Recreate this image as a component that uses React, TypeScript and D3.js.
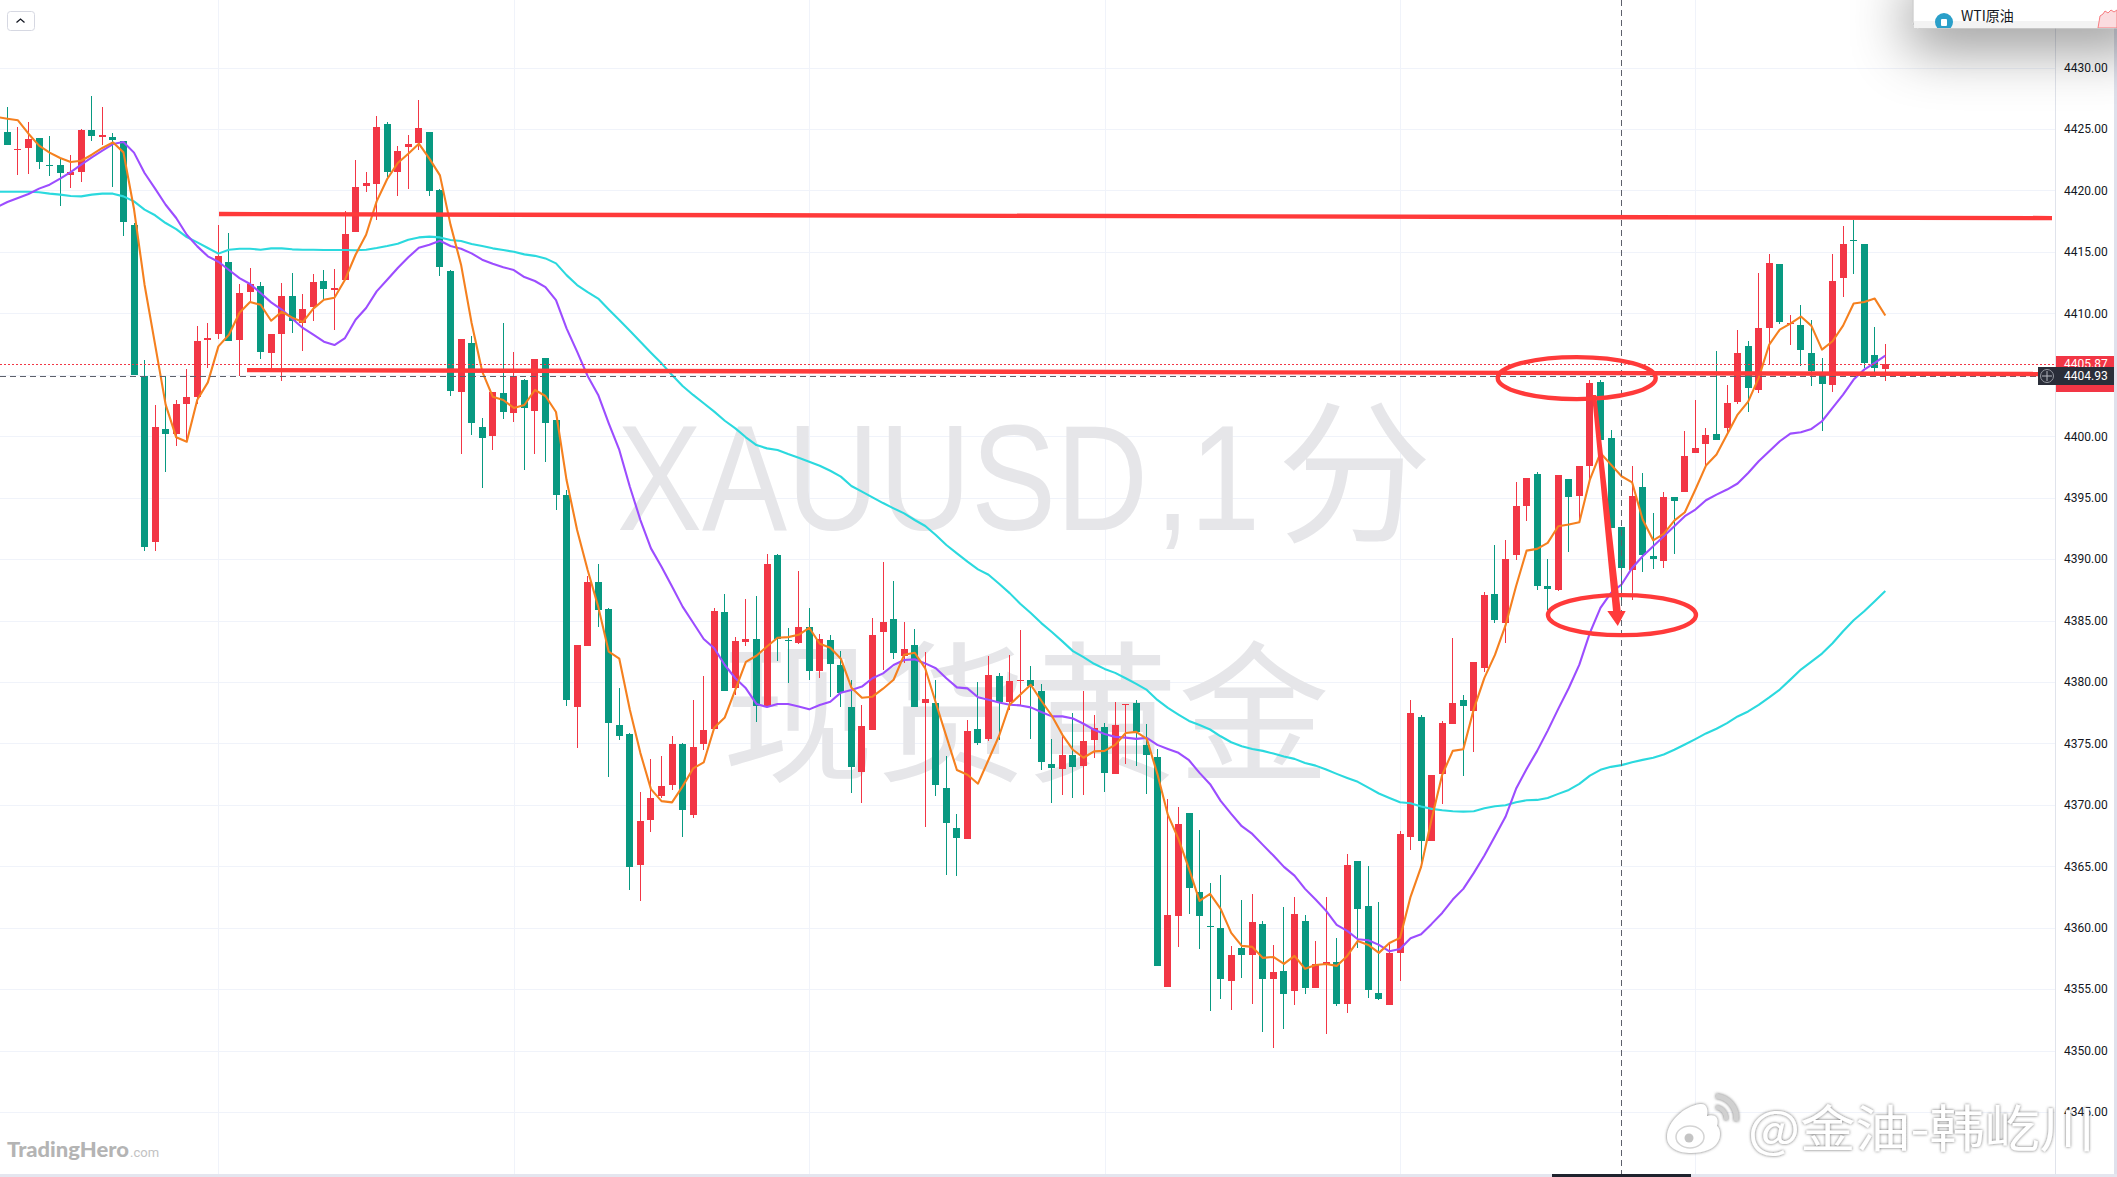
import { useEffect, useRef } from "react";
import * as d3 from "d3";

const opens = [
  4427.12, 4424.78, 4423.32, 4423.48, 4424.30, 4422.10, 4422.10, 4421.28, 4421.53, 4424.95,
  4424.38, 4424.38, 4424.05, 4417.22, 4404.93, 4391.41, 4400.61, 4400.21, 4402.65, 4403.22,
  4407.86, 4408.34, 4414.20, 4407.86, 4411.76, 4412.25, 4406.80, 4408.34, 4411.44, 4409.24,
  4410.54, 4412.66, 4411.93, 4412.74, 4416.65, 4420.39, 4420.55, 4425.44, 4421.53, 4423.56,
  4423.89, 4424.78, 4420.06, 4413.47, 4403.62, 4407.61, 4400.77, 4400.04, 4403.52, 4401.89,
  4404.57, 4402.05, 4406.37, 4401.32, 4395.21, 4377.96, 4382.92, 4388.13, 4385.94, 4376.49,
  4375.78, 4365.12, 4368.79, 4370.74, 4371.63, 4374.97, 4369.19, 4374.97, 4376.19, 4385.71,
  4379.53, 4383.27, 4383.52, 4378.06, 4390.35, 4383.44, 4383.19, 4384.49, 4380.91, 4383.44,
  4381.40, 4377.98, 4372.69, 4376.11, 4384.09, 4385.14, 4382.13, 4383.03, 4378.31, 4378.31,
  4371.39, 4368.13, 4367.24, 4376.19, 4375.38, 4380.51, 4378.39, 4380.10, 4380.18, 4379.28,
  4373.34, 4372.94, 4374.08, 4373.18, 4375.30, 4376.34, 4372.52, 4378.13, 4378.30, 4374.88,
  4373.90, 4355.18, 4360.96, 4369.34, 4362.91, 4360.15, 4359.98, 4355.67, 4358.36, 4357.79,
  4360.31, 4355.83, 4356.48, 4354.86, 4360.55, 4355.10, 4356.97, 4357.22, 4353.80, 4365.44,
  4361.77, 4354.69, 4353.72, 4357.95, 4367.39, 4377.16, 4367.06, 4372.52, 4376.59, 4378.54,
  4377.64, 4381.17, 4387.19, 4384.83, 4390.37, 4394.35, 4396.96, 4387.84, 4387.52, 4396.55,
  4395.17, 4397.61, 4404.45, 4399.89, 4392.65, 4389.15, 4395.90, 4390.29, 4389.88, 4395.09,
  4395.49, 4398.67, 4399.40, 4400.21, 4400.70, 4402.82, 4407.38, 4403.80, 4408.84, 4414.05,
  4409.17, 4409.09, 4406.81, 4405.02, 4404.20, 4412.91, 4416.00, 4415.68, 4406.64, 4405.51,
];

const highs = [
  4427.25, 4426.82, 4425.19, 4425.60, 4424.30, 4424.46, 4422.59, 4422.91, 4425.03, 4427.71,
  4426.82, 4424.70, 4424.05, 4417.38, 4406.23, 4402.57, 4404.93, 4402.97, 4405.50, 4409.00,
  4409.24, 4417.22, 4416.56, 4412.41, 4413.72, 4412.58, 4408.34, 4412.49, 4413.31, 4411.60,
  4413.23, 4413.55, 4413.63, 4418.35, 4422.51, 4421.53, 4426.09, 4425.60, 4423.65, 4424.54,
  4427.39, 4424.78, 4420.15, 4413.55, 4407.94, 4408.18, 4401.51, 4403.62, 4409.21, 4406.85,
  4404.66, 4406.28, 4406.37, 4401.32, 4395.62, 4383.00, 4388.62, 4389.60, 4386.02, 4379.50,
  4375.87, 4371.06, 4373.75, 4373.99, 4375.62, 4375.05, 4378.55, 4380.51, 4386.04, 4387.18,
  4383.68, 4386.77, 4387.02, 4390.43, 4390.43, 4384.41, 4389.05, 4386.04, 4383.92, 4383.84,
  4382.54, 4380.18, 4378.15, 4385.23, 4389.78, 4388.24, 4384.90, 4384.33, 4382.46, 4380.18,
  4373.99, 4369.27, 4376.92, 4380.02, 4382.13, 4380.75, 4382.21, 4384.25, 4381.32, 4379.85,
  4375.38, 4375.62, 4377.49, 4379.28, 4377.33, 4376.67, 4378.38, 4378.21, 4378.54, 4376.59,
  4374.55, 4370.48, 4369.83, 4369.34, 4367.96, 4363.65, 4364.30, 4358.52, 4362.26, 4362.75,
  4360.55, 4358.60, 4361.69, 4362.51, 4361.04, 4358.92, 4362.51, 4359.17, 4366.01, 4365.44,
  4365.03, 4362.10, 4358.68, 4367.88, 4378.54, 4377.32, 4372.44, 4376.83, 4383.59, 4378.95,
  4381.63, 4387.33, 4391.18, 4391.59, 4396.31, 4396.63, 4397.12, 4390.04, 4396.88, 4396.55,
  4397.61, 4404.61, 4404.61, 4400.54, 4392.65, 4397.61, 4397.04, 4393.79, 4395.49, 4395.09,
  4400.46, 4402.98, 4400.70, 4406.97, 4404.20, 4408.68, 4407.78, 4413.32, 4414.86, 4414.05,
  4409.90, 4410.71, 4409.49, 4406.40, 4414.86, 4417.14, 4417.63, 4415.68, 4408.92, 4407.54,
];

const lows = [
  4424.81, 4423.73, 4421.23, 4421.37, 4421.77, 4421.20, 4418.76, 4420.23, 4420.72, 4424.05,
  4423.73, 4420.31, 4416.32, 4405.01, 4390.63, 4390.63, 4397.11, 4399.23, 4399.55, 4402.65,
  4405.58, 4407.94, 4407.77, 4404.93, 4410.87, 4406.31, 4405.50, 4404.46, 4408.43, 4406.96,
  4409.40, 4411.19, 4408.67, 4412.74, 4416.65, 4419.90, 4417.62, 4421.12, 4419.58, 4420.15,
  4423.32, 4419.58, 4413.06, 4403.30, 4398.58, 4400.12, 4395.81, 4398.90, 4401.40, 4401.16,
  4397.25, 4398.55, 4397.90, 4393.99, 4378.04, 4374.62, 4382.92, 4384.47, 4372.26, 4375.27,
  4363.09, 4362.19, 4367.81, 4370.55, 4371.23, 4367.40, 4368.95, 4374.48, 4376.19, 4379.28,
  4378.96, 4382.95, 4376.76, 4378.06, 4381.73, 4379.94, 4383.11, 4380.18, 4380.34, 4378.80,
  4377.98, 4370.98, 4370.17, 4376.11, 4380.99, 4381.89, 4381.54, 4377.98, 4368.22, 4370.74,
  4364.31, 4364.23, 4367.24, 4374.89, 4375.22, 4375.30, 4377.74, 4378.15, 4375.38, 4372.85,
  4370.17, 4370.82, 4370.58, 4370.82, 4373.83, 4371.05, 4372.52, 4373.33, 4373.17, 4370.89,
  4356.89, 4355.18, 4358.44, 4361.12, 4358.27, 4353.23, 4354.20, 4353.31, 4355.91, 4353.80,
  4351.52, 4350.22, 4351.76, 4353.72, 4354.61, 4355.10, 4351.35, 4353.63, 4353.06, 4358.36,
  4354.29, 4354.12, 4353.72, 4355.67, 4366.33, 4365.06, 4367.06, 4370.08, 4376.59, 4372.35,
  4374.31, 4380.84, 4384.83, 4383.20, 4389.96, 4393.13, 4387.52, 4385.89, 4387.44, 4390.61,
  4393.22, 4396.55, 4399.73, 4392.56, 4386.70, 4386.70, 4388.98, 4389.23, 4389.31, 4390.45,
  4395.49, 4398.67, 4397.56, 4399.73, 4400.27, 4402.66, 4402.01, 4403.55, 4405.91, 4409.17,
  4407.46, 4405.75, 4404.12, 4400.46, 4403.63, 4411.37, 4413.24, 4405.59, 4405.26, 4404.53,
];

const closes = [
  4424.95, 4423.73, 4423.40, 4424.21, 4422.34, 4421.96, 4421.45, 4421.53, 4424.95, 4424.46,
  4424.54, 4424.13, 4417.46, 4405.01, 4390.95, 4400.77, 4400.21, 4402.65, 4403.22, 4407.77,
  4408.02, 4414.69, 4407.77, 4411.68, 4412.41, 4406.88, 4408.34, 4411.44, 4409.40, 4410.38,
  4412.58, 4412.01, 4412.09, 4416.48, 4420.31, 4420.63, 4425.19, 4421.53, 4423.24, 4423.81,
  4425.11, 4419.98, 4413.80, 4403.70, 4407.94, 4401.10, 4399.88, 4403.62, 4401.97, 4404.90,
  4402.30, 4406.28, 4401.07, 4395.21, 4378.53, 4383.00, 4388.13, 4385.85, 4376.66, 4375.60,
  4364.96, 4368.70, 4370.58, 4371.55, 4374.97, 4369.60, 4374.73, 4376.11, 4385.80, 4379.28,
  4383.35, 4383.52, 4378.06, 4389.62, 4383.52, 4383.35, 4384.49, 4380.91, 4383.52, 4381.48,
  4379.09, 4373.10, 4376.44, 4383.84, 4384.90, 4382.38, 4382.70, 4377.98, 4378.63, 4371.63,
  4368.54, 4367.32, 4376.03, 4375.05, 4380.59, 4378.39, 4380.10, 4380.18, 4379.64, 4373.51,
  4373.02, 4374.08, 4373.10, 4375.22, 4376.27, 4372.60, 4376.50, 4378.21, 4375.94, 4374.06,
  4356.89, 4361.04, 4368.45, 4363.24, 4360.96, 4360.06, 4355.83, 4357.79, 4357.79, 4360.47,
  4355.83, 4356.40, 4354.61, 4361.12, 4355.10, 4357.05, 4357.22, 4353.80, 4365.11, 4361.53,
  4354.94, 4354.20, 4357.95, 4367.63, 4377.48, 4367.06, 4372.44, 4376.67, 4378.30, 4378.05,
  4381.63, 4387.11, 4385.08, 4390.04, 4394.35, 4396.63, 4387.84, 4387.60, 4396.88, 4395.09,
  4397.61, 4404.37, 4399.73, 4392.56, 4389.31, 4395.17, 4390.37, 4390.04, 4395.09, 4394.76,
  4398.42, 4399.08, 4400.13, 4399.73, 4402.74, 4406.81, 4403.96, 4408.84, 4414.13, 4409.33,
  4409.25, 4407.05, 4405.34, 4404.28, 4412.67, 4415.68, 4415.92, 4405.99, 4405.59, 4405.87,
];

const maFast = [
  4425.98, 4425.84, 4425.71, 4424.62, 4423.65, 4423.08, 4422.64, 4422.32, 4422.42, 4422.91,
  4423.46, 4423.92, 4423.10, 4418.49, 4412.33, 4407.45, 4402.57, 4399.91, 4399.55, 4402.97,
  4404.38, 4407.31, 4408.26, 4410.05, 4410.92, 4410.70, 4409.40, 4410.13, 4409.65, 4409.29,
  4410.38, 4411.11, 4411.27, 4412.74, 4414.77, 4416.40, 4419.11, 4420.93, 4422.23, 4422.99,
  4423.81, 4422.59, 4421.23, 4417.22, 4413.96, 4409.21, 4405.28, 4403.22, 4402.95, 4402.30,
  4402.54, 4403.76, 4403.27, 4401.97, 4396.43, 4392.37, 4389.11, 4386.13, 4382.46, 4381.89,
  4377.74, 4374.21, 4371.28, 4370.30, 4370.20, 4371.50, 4372.96, 4373.45, 4376.27, 4377.11,
  4379.37, 4381.64, 4382.13, 4382.89, 4383.60, 4383.65, 4383.84, 4384.41, 4383.11, 4382.78,
  4381.89, 4379.53, 4378.71, 4378.80, 4379.45, 4380.18, 4382.21, 4382.38, 4381.10, 4378.31,
  4375.57, 4372.83, 4372.45, 4371.72, 4373.67, 4375.62, 4378.15, 4378.96, 4379.77, 4378.47,
  4377.25, 4375.70, 4374.48, 4373.83, 4374.35, 4374.39, 4374.88, 4375.85, 4375.94, 4375.37,
  4372.52, 4369.18, 4367.23, 4364.78, 4362.18, 4362.75, 4361.53, 4359.58, 4358.52, 4358.44,
  4357.54, 4357.62, 4357.05, 4357.70, 4356.65, 4356.97, 4357.05, 4356.89, 4357.70, 4358.92,
  4358.60, 4357.95, 4358.76, 4359.17, 4362.51, 4364.95, 4368.85, 4372.44, 4374.39, 4374.52,
  4377.81, 4380.33, 4382.20, 4384.60, 4387.79, 4390.69, 4390.83, 4391.32, 4392.67, 4392.81,
  4393.00, 4396.47, 4398.64, 4397.69, 4396.74, 4396.25, 4393.22, 4391.53, 4392.05, 4393.13,
  4393.81, 4395.66, 4397.61, 4398.51, 4400.13, 4401.76, 4402.82, 4404.75, 4407.46, 4408.68,
  4409.17, 4409.74, 4408.98, 4407.05, 4407.73, 4409.00, 4410.80, 4410.93, 4411.20, 4409.82,
];

const maMid = [
  4418.65, 4419.06, 4419.39, 4419.71, 4420.15, 4420.47, 4420.96, 4421.50, 4422.10, 4422.70,
  4423.24, 4423.78, 4423.94, 4423.08, 4421.42, 4420.15, 4418.84, 4417.76, 4416.40, 4415.45,
  4414.64, 4414.20, 4413.53, 4412.87, 4412.39, 4411.65, 4410.89, 4410.30, 4409.56, 4408.81,
  4408.26, 4407.69, 4407.42, 4407.99, 4409.48, 4410.43, 4411.79, 4412.74, 4413.69, 4414.56,
  4415.34, 4415.59, 4415.91, 4415.48, 4415.26, 4414.88, 4414.37, 4414.04, 4413.76, 4413.52,
  4412.95, 4412.63, 4412.14, 4411.08, 4408.78, 4406.88, 4404.90, 4403.36, 4401.05, 4398.88,
  4395.89, 4393.18, 4390.87, 4389.38, 4387.76, 4386.13, 4384.82, 4383.50, 4382.74, 4381.38,
  4380.30, 4379.48, 4378.21, 4377.96, 4378.21, 4378.21, 4378.01, 4377.77, 4378.12, 4378.39,
  4379.13, 4379.35, 4379.62, 4380.30, 4380.70, 4381.38, 4381.79, 4381.84, 4381.51, 4381.11,
  4380.30, 4379.56, 4379.48, 4378.75, 4378.55, 4378.33, 4378.15, 4378.09, 4377.93, 4377.55,
  4377.20, 4377.20, 4377.03, 4376.60, 4376.11, 4375.77, 4375.53, 4375.47, 4375.37, 4375.45,
  4374.88, 4374.55, 4374.23, 4373.63, 4372.60, 4371.68, 4370.32, 4369.26, 4368.26, 4367.63,
  4366.74, 4365.87, 4364.95, 4364.24, 4363.16, 4362.29, 4361.37, 4360.23, 4359.74, 4359.06,
  4358.98, 4358.60, 4358.08, 4358.27, 4359.14, 4359.47, 4360.31, 4361.20, 4362.29, 4363.16,
  4364.46, 4365.87, 4367.44, 4369.02, 4371.30, 4372.92, 4374.39, 4376.04, 4377.81, 4379.51,
  4381.41, 4383.99, 4386.03, 4387.25, 4387.93, 4389.28, 4390.23, 4391.04, 4391.86, 4392.67,
  4393.49, 4394.03, 4394.79, 4395.25, 4395.66, 4396.15, 4397.01, 4397.96, 4398.78, 4399.59,
  4400.21, 4400.32, 4400.59, 4401.22, 4402.30, 4403.39, 4404.61, 4405.42, 4405.97, 4406.56,
];

const maSlow = [
  4419.90, 4419.90, 4419.90, 4419.90, 4419.85, 4419.74, 4419.66, 4419.55, 4419.52, 4419.66,
  4419.74, 4419.74, 4419.52, 4419.11, 4418.44, 4417.98, 4417.35, 4416.86, 4416.21, 4415.78,
  4415.32, 4414.86, 4415.18, 4415.26, 4415.26, 4415.18, 4415.29, 4415.29, 4415.21, 4415.18,
  4415.18, 4415.15, 4415.15, 4415.15, 4415.13, 4415.18, 4415.32, 4415.48, 4415.67, 4415.99,
  4416.18, 4416.24, 4416.18, 4415.97, 4415.89, 4415.64, 4415.48, 4415.29, 4415.15, 4415.01,
  4414.80, 4414.68, 4414.47, 4414.07, 4413.11, 4412.30, 4411.73, 4411.20, 4410.32, 4409.46,
  4408.59, 4407.69, 4406.80, 4405.93, 4404.98, 4404.09, 4403.36, 4402.68, 4402.00, 4401.26,
  4400.64, 4399.91, 4399.28, 4399.01, 4398.88, 4398.55, 4398.25, 4397.93, 4397.60, 4397.19,
  4396.71, 4395.95, 4395.49, 4395.02, 4394.56, 4394.13, 4393.72, 4393.18, 4392.69, 4391.96,
  4391.15, 4390.47, 4389.79, 4389.16, 4388.73, 4387.99, 4387.23, 4386.37, 4385.61, 4384.79,
  4384.06, 4383.30, 4382.51, 4382.02, 4381.48, 4381.06, 4380.74, 4380.30, 4379.84, 4379.35,
  4378.54, 4377.89, 4377.35, 4376.83, 4376.50, 4376.13, 4375.58, 4375.09, 4374.77, 4374.55,
  4374.39, 4374.17, 4373.93, 4373.74, 4373.41, 4373.19, 4372.87, 4372.52, 4372.19, 4371.87,
  4371.40, 4370.92, 4370.56, 4370.21, 4370.13, 4369.86, 4369.67, 4369.56, 4369.48, 4369.45,
  4369.48, 4369.72, 4369.89, 4369.97, 4370.21, 4370.37, 4370.40, 4370.56, 4370.89, 4371.21,
  4371.70, 4372.38, 4372.85, 4373.09, 4373.23, 4373.47, 4373.66, 4373.83, 4374.10, 4374.48,
  4374.91, 4375.35, 4375.81, 4376.19, 4376.65, 4377.19, 4377.60, 4378.14, 4378.74, 4379.38,
  4380.19, 4381.01, 4381.66, 4382.31, 4383.15, 4384.13, 4385.02, 4385.75, 4386.57, 4387.41,
];

const priceTicks = [4430, 4425, 4420, 4415, 4410, 4405, 4400, 4395, 4390, 4385, 4380, 4375, 4370, 4365, 4360, 4355, 4350, 4345];
const timeGridBars = [21, 49, 77, 105, 133, 161];

const lastPrice = 4405.87;
const crossPrice = 4404.93;
const crossBar = 154;

// hand drawn marks on the picture, as [bar, price]
const resistance: [number, number][] = [[21.06, 4418.08], [194.8, 4417.75]];
const support: [number, number][] = [[23.71, 4405.38], [193.5, 4405.06]];
const topRing = { bar: 149.75, price: 4404.73, rx: 79, ry: 21 };
const bottomRing = { bar: 154.04, price: 4385.44, rx: 74, ry: 20 };
const arrowShape: [number, number][] = [
  [151.2, 4403.35], [151.6, 4403.35], [153.92, 4385.77], [154.39, 4385.77],
  [153.64, 4384.55], [152.65, 4385.77], [153.19, 4385.77],
];

const UP = "#f23645";
const DOWN = "#089981";
const DRAW_RED = "#ff3a3a";
const AXIS_FONT = "Roboto, 'Liberation Sans', sans-serif";

export default function App() {
  const svgRef = useRef<SVGSVGElement>(null);

  useEffect(() => {
    if (!svgRef.current) return;
    const svg = d3.select(svgRef.current);
    svg.selectAll("*").remove();

    const width = 2117;
    const height = 1177;
    const axisX = 2056;

    const x = d3.scaleLinear().domain([0, 179]).range([-3.15, 1885.3]);
    const y = d3.scaleLinear().domain([4430, 4345]).range([67.6, 1112]);

    const defs = svg.append("defs");
    const panelShadow = defs.append("filter").attr("id", "panelShadow")
      .attr("x", "-50%").attr("y", "-100%").attr("width", "200%").attr("height", "400%");
    panelShadow.append("feDropShadow").attr("dx", -4).attr("dy", 20).attr("stdDeviation", 28)
      .attr("flood-color", "#000").attr("flood-opacity", 0.42);
    const glow = defs.append("filter").attr("id", "glow")
      .attr("x", "-10%").attr("y", "-30%").attr("width", "120%").attr("height", "160%");
    glow.append("feDropShadow").attr("dx", 0).attr("dy", 0).attr("stdDeviation", 1.6)
      .attr("flood-color", "#666").attr("flood-opacity", 1);
    defs.append("clipPath").attr("id", "paneClip").append("rect")
      .attr("x", 0).attr("y", 0).attr("width", axisX).attr("height", 1174);
    defs.append("clipPath").attr("id", "panelClip").append("rect")
      .attr("x", 1913).attr("y", 0).attr("width", 204).attr("height", 28);

    svg.append("rect").attr("width", width).attr("height", height).attr("fill", "#fff");

    // grid
    const grid = svg.append("g").attr("shape-rendering", "crispEdges");
    grid.selectAll("line.h").data(priceTicks).enter().append("line")
      .attr("class", "h")
      .attr("x1", 0).attr("x2", axisX)
      .attr("y1", (d) => Math.round(y(d)) + 0.5).attr("y2", (d) => Math.round(y(d)) + 0.5)
      .attr("stroke", "#f0f3fa");
    grid.selectAll("line.v").data(timeGridBars).enter().append("line")
      .attr("class", "v")
      .attr("x1", (d) => Math.round(x(d)) + 0.5).attr("x2", (d) => Math.round(x(d)) + 0.5)
      .attr("y1", 0).attr("y2", 1174)
      .attr("stroke", "#f0f3fa");

    // symbol watermark
    const mark = svg.append("g").attr("fill", "#e6e6e9");
    mark.append("text").attr("x", 617).attr("y", 530)
      .attr("font-family", "'Liberation Sans', sans-serif").attr("font-size", 150)
      .attr("textLength", 531).attr("lengthAdjust", "spacingAndGlyphs")
      .text("XAUUSD");
    mark.append("text").attr("x", 1155).attr("y", 530)
      .attr("font-family", "'Liberation Sans', sans-serif").attr("font-size", 150)
      .attr("textLength", 105).attr("lengthAdjust", "spacingAndGlyphs")
      .text(",1");
    mark.append("text").attr("x", 1277).attr("y", 530)
      .attr("font-family", "'Noto Sans CJK SC', sans-serif").attr("font-size", 155)
      .text("分");
    mark.append("text").attr("x", 722).attr("y", 770)
      .attr("font-family", "'Noto Sans CJK SC', sans-serif").attr("font-size", 152)
      .text("现货黄金");

    // candles
    const bars = d3.range(opens.length);
    const candles = svg.append("g").attr("shape-rendering", "crispEdges");
    const bodyLeft = (i: number) => Math.round(x(i) - 3.5);
    const colorOf = (i: number) => (closes[i] >= opens[i] ? UP : DOWN);
    candles.selectAll("rect.wick").data(bars).enter().append("rect")
      .attr("class", "wick")
      .attr("x", (i) => bodyLeft(i) + 3)
      .attr("y", (i) => Math.round(y(highs[i])))
      .attr("width", 1)
      .attr("height", (i) => Math.max(1, Math.round(y(lows[i])) - Math.round(y(highs[i]))))
      .attr("fill", colorOf);
    candles.selectAll("rect.body").data(bars).enter().append("rect")
      .attr("class", "body")
      .attr("x", bodyLeft)
      .attr("y", (i) => Math.round(y(Math.max(opens[i], closes[i]))))
      .attr("width", 7)
      .attr("height", (i) => Math.max(1, Math.round(y(Math.min(opens[i], closes[i]))) - Math.round(y(Math.max(opens[i], closes[i])))))
      .attr("fill", colorOf);

    // moving averages
    const line = d3.line<number>().x((_, i) => x(i)).y((d) => y(d));
    const mas: [number[], string][] = [[maSlow, "#2bd9de"], [maMid, "#9c4dff"], [maFast, "#f5801f"]];
    mas.forEach(([values, color]) => {
      svg.append("path").attr("d", line(values))
        .attr("fill", "none").attr("stroke", color).attr("stroke-width", 2.1)
        .attr("stroke-linejoin", "round");
    });

    // last price and crosshair
    svg.append("line").attr("x1", 0).attr("x2", axisX)
      .attr("y1", Math.round(y(lastPrice)) + 0.5).attr("y2", Math.round(y(lastPrice)) + 0.5)
      .attr("stroke", UP).attr("stroke-dasharray", "1.5 2.5").attr("shape-rendering", "crispEdges");
    svg.append("line").attr("x1", 0).attr("x2", 2038)
      .attr("y1", Math.round(y(crossPrice)) + 0.5).attr("y2", Math.round(y(crossPrice)) + 0.5)
      .attr("stroke", "#5d606b").attr("stroke-dasharray", "6 4").attr("shape-rendering", "crispEdges");
    svg.append("line")
      .attr("x1", Math.floor(x(crossBar)) + 0.5).attr("x2", Math.floor(x(crossBar)) + 0.5)
      .attr("y1", 0).attr("y2", 1174)
      .attr("stroke", "#5d606b").attr("stroke-dasharray", "6 4").attr("shape-rendering", "crispEdges");

    // hand drawn levels, rings and arrow
    const draw = svg.append("g").attr("clip-path", "url(#paneClip)");
    const pointLine = d3.line<[number, number]>().x((d) => x(d[0])).y((d) => y(d[1]));
    [resistance, support].forEach((level) => {
      draw.append("path").attr("d", pointLine(level))
        .attr("fill", "none").attr("stroke", DRAW_RED).attr("stroke-width", 4.4);
    });
    [topRing, bottomRing].forEach((ring) => {
      draw.append("ellipse")
        .attr("cx", x(ring.bar)).attr("cy", y(ring.price))
        .attr("rx", ring.rx).attr("ry", ring.ry)
        .attr("fill", "none").attr("stroke", DRAW_RED).attr("stroke-width", 4.4);
    });
    draw.append("path").attr("d", pointLine(arrowShape) + "Z").attr("fill", DRAW_RED);

    // price axis
    svg.append("rect").attr("x", axisX).attr("y", 0).attr("width", width - axisX).attr("height", height).attr("fill", "#fff");
    svg.append("line").attr("x1", axisX - 0.5).attr("x2", axisX - 0.5).attr("y1", 0).attr("y2", height)
      .attr("stroke", "#e0e3eb").attr("shape-rendering", "crispEdges");
    const axis = d3.axisRight(y)
      .tickValues(priceTicks)
      .tickSize(0)
      .tickPadding(8)
      .tickFormat((d) => d3.format(".2f")(d as number));
    const axisG = svg.append("g").attr("transform", `translate(${axisX},0)`).call(axis);
    axisG.select(".domain").remove();
    axisG.selectAll("text")
      .attr("font-family", AXIS_FONT).attr("font-size", 12).attr("fill", "#131722");
    svg.append("rect").attr("x", 2114).attr("y", 0).attr("width", 3).attr("height", height).attr("fill", "#dfe1ec");

    // price labels
    const labels = svg.append("g").attr("font-family", AXIS_FONT).attr("font-size", 12).attr("fill", "#fff");
    labels.append("rect").attr("x", axisX).attr("y", 356).attr("width", 58).attr("height", 36).attr("fill", UP);
    labels.append("text").attr("x", 2064).attr("y", y(lastPrice)).attr("dy", "0.35em").text(d3.format(".2f")(lastPrice));
    labels.append("rect").attr("x", 2038).attr("y", 367).attr("width", 76).attr("height", 18).attr("fill", "#2a2e39");
    labels.append("circle").attr("cx", 2047).attr("cy", 376).attr("r", 6.5)
      .attr("fill", "none").attr("stroke", "#9598a1");
    labels.append("path").attr("d", "M2042 376H2052M2047 371V381").attr("stroke", "#b2b5be");
    labels.append("text").attr("x", 2064).attr("y", y(crossPrice)).attr("dy", "0.35em").text(d3.format(".2f")(crossPrice));

    // bottom edge
    svg.append("rect").attr("x", 0).attr("y", 1174).attr("width", width).attr("height", 3).attr("fill", "#e4e6ef");
    svg.append("rect").attr("x", 1552).attr("y", 1174).attr("width", 139).attr("height", 3).attr("fill", "#1e222d");

    // collapse button
    svg.append("rect").attr("x", 7.5).attr("y", 11.5).attr("width", 27).attr("height", 19).attr("rx", 3)
      .attr("fill", "#fff").attr("stroke", "#d6d8e2");
    svg.append("path").attr("d", "M16.5 22.5L20.5 19L24.5 22.5")
      .attr("fill", "none").attr("stroke", "#131722").attr("stroke-width", 1.3);

    // logo
    svg.append("text").attr("x", 7).attr("y", 1157)
      .attr("font-family", "Lato, Inter, sans-serif").attr("font-weight", 900).attr("font-size", 20)
      .attr("fill", "#b4b4b4").attr("textLength", 122).attr("lengthAdjust", "spacingAndGlyphs")
      .text("TradingHero");
    svg.append("text").attr("x", 130).attr("y", 1157)
      .attr("font-family", "Roboto, sans-serif").attr("font-size", 13)
      .attr("fill", "#c2c2c2").text(".com");

    // symbol popup cut off by the top edge
    svg.append("rect").attr("x", 1913).attr("y", -30).attr("width", 240).attr("height", 58).attr("rx", 6)
      .attr("fill", "#fff").attr("stroke", "#bdbdbd").attr("filter", "url(#panelShadow)");
    const panel = svg.append("g").attr("clip-path", "url(#panelClip)");
    panel.append("rect").attr("x", 1914).attr("y", 21).attr("width", 203).attr("height", 7).attr("fill", "#f3f3f3");
    panel.append("circle").attr("cx", 1944).attr("cy", 22).attr("r", 9).attr("fill", "#2a9fc9");
    panel.append("rect").attr("x", 1941).attr("y", 19).attr("width", 6).attr("height", 7).attr("rx", 1).attr("fill", "#fff");
    panel.append("text").attr("x", 1961).attr("y", 21)
      .attr("font-family", "'Noto Sans CJK SC', sans-serif").attr("font-size", 14).attr("fill", "#131722")
      .text("WTI原油");
    panel.append("path").attr("d", "M2098 28L2100 16L2103 14L2105 11L2108 13L2111 10L2114 12L2117 10V28Z")
      .attr("fill", "#fbdcdf").attr("stroke", "#f77c80");

    // weibo stamp
    const stamp = svg.append("g").attr("filter", "url(#glow)").attr("fill", "#fff");
    stamp.append("path")
      .attr("d", "M1667 1137C1667 1122 1684 1106 1700 1104C1708 1103 1708 1112 1707 1116C1712 1114 1720 1115 1717 1126C1722 1130 1722 1145 1708 1150C1694 1156 1667 1154 1667 1137Z");
    stamp.append("ellipse").attr("cx", 1690).attr("cy", 1137).attr("rx", 14).attr("ry", 11)
      .attr("fill", "#fff").attr("stroke", "#d4d4d4").attr("stroke-width", 1.5);
    stamp.append("circle").attr("cx", 1689).attr("cy", 1138).attr("r", 4.5).attr("fill", "#c4c4c4");
    stamp.append("path").attr("d", "M1716 1096C1729 1097 1738 1109 1736 1121")
      .attr("fill", "none").attr("stroke", "#d0d0d0").attr("stroke-width", 5);
    stamp.append("path").attr("d", "M1716 1107C1722 1108 1727 1113 1726 1120")
      .attr("fill", "none").attr("stroke", "#d0d0d0").attr("stroke-width", 4);
    stamp.append("text").attr("x", 1748).attr("y", 1147)
      .attr("font-family", "'Noto Sans CJK SC', sans-serif").attr("font-size", 50)
      .attr("textLength", 347).attr("lengthAdjust", "spacingAndGlyphs")
      .text("@金油-韩屹川");
  }, []);

  return (
    <div style={{ position: "absolute", left: 0, top: 0, width: 2117, height: 1177, overflow: "hidden" }}>
      <svg ref={svgRef} width={2117} height={1177} style={{ display: "block" }}></svg>
    </div>
  );
}
